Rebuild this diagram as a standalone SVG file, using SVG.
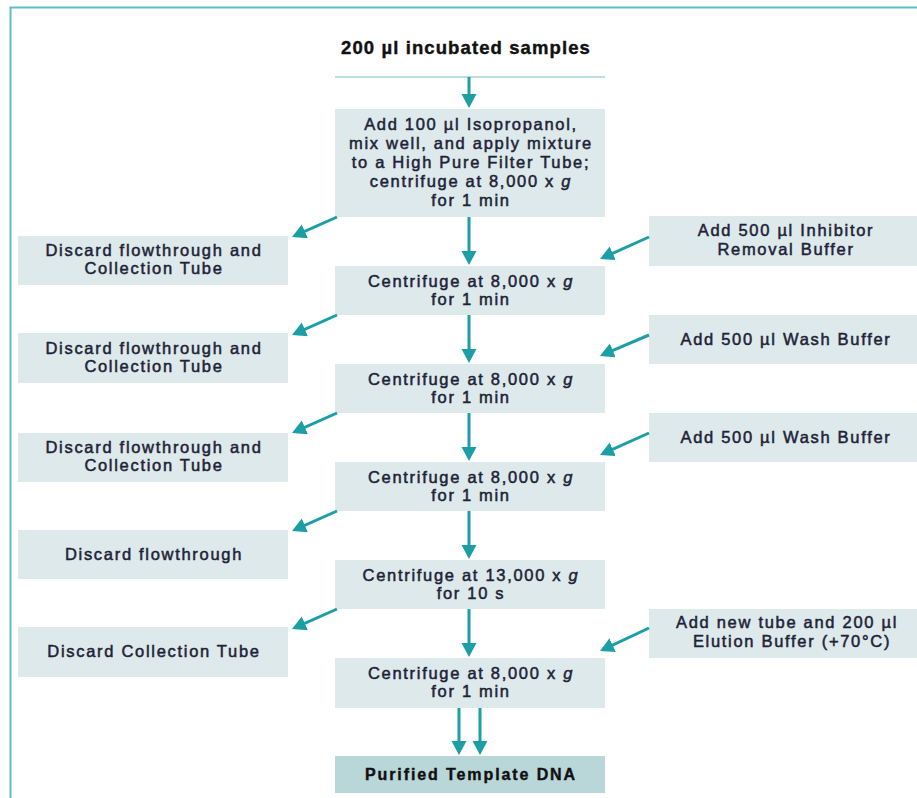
<svg xmlns="http://www.w3.org/2000/svg" width="917" height="798" viewBox="0 0 917 798">
<defs>
<marker id="ah" markerUnits="userSpaceOnUse" markerWidth="16" markerHeight="16" refX="10" refY="7.5" orient="auto">
<path d="M0,0 L14,7.5 L0,15 z" fill="#1b9ea4"/>
</marker>
<style>
.box{fill:#dde9ea}
.fin{fill:#b9d6d9}
.t{font-family:"Liberation Sans",Arial,sans-serif;font-size:16.5px;letter-spacing:1.7px;fill:#1d2238;stroke:#1d2238;stroke-width:0.5;text-anchor:middle}
.tb{font-family:"Liberation Sans",Arial,sans-serif;font-weight:bold;fill:#111;stroke:#111;stroke-width:0.4;text-anchor:middle}
.c line{stroke:#1b9ea4;stroke-width:3;marker-end:url(#ah)}
</style>
</defs>
<rect width="917" height="798" fill="#fff"/>
<g id="frame" fill="none" stroke="#5bbfc4" stroke-width="2">
<path d="M10.5,798 V7.5 H917"/>
</g>
<g id="title">
<text class="tb" x="466" y="54" style="font-size:18.5px;letter-spacing:1.1px">200 µl incubated samples</text>
<line x1="335" y1="77" x2="605" y2="77" stroke="#a8d4d6" stroke-width="1.5"/>
</g>
<g id="b1"><rect class="box" x="335" y="109" width="270" height="108"/>
<text class="t" x="471" y="130">Add 100 µl Isopropanol,</text>
<text class="t" x="471" y="149">mix well, and apply mixture</text>
<text class="t" x="471" y="168">to a High Pure Filter Tube;</text>
<text class="t" x="471" y="187">centrifuge at 8,000 x <tspan font-style="italic">g</tspan></text>
<text class="t" x="471" y="206">for 1 min</text></g>
<g id="b2"><rect class="box" x="335" y="266" width="270" height="49"/>
<text class="t" x="471" y="287">Centrifuge at 8,000 x <tspan font-style="italic">g</tspan></text>
<text class="t" x="471" y="305">for 1 min</text></g>
<g id="b3"><rect class="box" x="335" y="364" width="270" height="49"/>
<text class="t" x="471" y="385">Centrifuge at 8,000 x <tspan font-style="italic">g</tspan></text>
<text class="t" x="471" y="403">for 1 min</text></g>
<g id="b4"><rect class="box" x="335" y="462" width="270" height="49"/>
<text class="t" x="471" y="483">Centrifuge at 8,000 x <tspan font-style="italic">g</tspan></text>
<text class="t" x="471" y="501">for 1 min</text></g>
<g id="b5"><rect class="box" x="335" y="560" width="270" height="49"/>
<text class="t" x="471" y="581">Centrifuge at 13,000 x <tspan font-style="italic">g</tspan></text>
<text class="t" x="471" y="599">for 10 s</text></g>
<g id="b6"><rect class="box" x="335" y="658" width="270" height="50"/>
<text class="t" x="471" y="679">Centrifuge at 8,000 x <tspan font-style="italic">g</tspan></text>
<text class="t" x="471" y="697">for 1 min</text></g>
<g id="final"><rect class="fin" x="335" y="756" width="270" height="37"/>
<text class="tb" x="471" y="780" style="font-size:16px;letter-spacing:1.9px">Purified Template DNA</text></g>
<g id="l1"><rect class="box" x="18" y="236" width="270" height="49"/>
<text class="t" x="154" y="256">Discard flowthrough and</text>
<text class="t" x="154" y="274">Collection Tube</text></g>
<g id="l2"><rect class="box" x="18" y="333" width="270" height="50"/>
<text class="t" x="154" y="354">Discard flowthrough and</text>
<text class="t" x="154" y="372">Collection Tube</text></g>
<g id="l3"><rect class="box" x="18" y="433" width="270" height="49"/>
<text class="t" x="154" y="453">Discard flowthrough and</text>
<text class="t" x="154" y="471">Collection Tube</text></g>
<g id="l4"><rect class="box" x="18" y="530" width="270" height="49"/>
<text class="t" x="154" y="560">Discard flowthrough</text></g>
<g id="l5"><rect class="box" x="18" y="627" width="270" height="50"/>
<text class="t" x="154" y="657">Discard Collection Tube</text></g>
<g id="r1"><rect class="box" x="649" y="216" width="268" height="50"/>
<text class="t" x="786" y="236">Add 500 µl Inhibitor</text>
<text class="t" x="786" y="255">Removal Buffer</text></g>
<g id="r2"><rect class="box" x="649" y="315" width="268" height="49"/>
<text class="t" x="786" y="345">Add 500 µl Wash Buffer</text></g>
<g id="r3"><rect class="box" x="649" y="413" width="268" height="49"/>
<text class="t" x="786" y="443">Add 500 µl Wash Buffer</text></g>
<g id="r4"><rect class="box" x="649" y="609" width="268" height="49"/>
<text class="t" x="787" y="628">Add new tube and 200 µl</text>
<text class="t" x="792" y="647">Elution Buffer (+70°C)</text></g>
<g id="connectors" class="c">
<line x1="469" y1="77" x2="469" y2="104"/>
<line x1="469" y1="217" x2="469" y2="261"/>
<line x1="469" y1="315" x2="469" y2="359"/>
<line x1="469" y1="413" x2="469" y2="457"/>
<line x1="469" y1="511" x2="469" y2="555"/>
<line x1="469" y1="609" x2="469" y2="653"/>
<line x1="459" y1="708" x2="459" y2="751"/>
<line x1="480" y1="708" x2="480" y2="751"/>
<line x1="337" y1="217" x2="295.7" y2="235.4"/>
<line x1="337" y1="315" x2="295.7" y2="333.4"/>
<line x1="337" y1="413" x2="295.7" y2="431.4"/>
<line x1="337" y1="511" x2="295.7" y2="529.4"/>
<line x1="337" y1="609" x2="295.7" y2="627.4"/>
<line x1="649" y1="237" x2="603.6" y2="257.4"/>
<line x1="649" y1="335" x2="603.6" y2="354.4"/>
<line x1="649" y1="433" x2="603.6" y2="453.4"/>
<line x1="649" y1="628" x2="603.6" y2="649.4"/>
</g>
</svg>
